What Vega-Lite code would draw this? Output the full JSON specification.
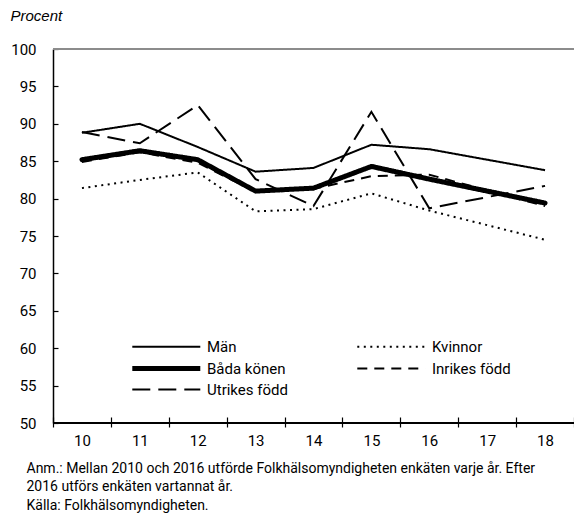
{
  "$schema": "https://vega.github.io/schema/vega-lite/v6.json",
  "width": 521,
  "height": 374,
  "autosize": {"type": "none"},
  "padding": {"left": 53, "top": 49, "right": 0, "bottom": 102},
  "background": "white",
  "config": {
    "view": {"stroke": null},
    "font": "Roboto",
    "axis": {"grid": false, "labelColor": "black", "labelFont": "Roboto", "titleColor": "black"}
  },
  "data": {
    "values": [
      {"year": "10", "serie": "Män", "value": 88.8},
      {"year": "11", "serie": "Män", "value": 90.0},
      {"year": "12", "serie": "Män", "value": 86.9},
      {"year": "13", "serie": "Män", "value": 83.6},
      {"year": "14", "serie": "Män", "value": 84.1},
      {"year": "15", "serie": "Män", "value": 87.2},
      {"year": "16", "serie": "Män", "value": 86.6},
      {"year": "18", "serie": "Män", "value": 83.8},
      {"year": "10", "serie": "Kvinnor", "value": 81.4},
      {"year": "11", "serie": "Kvinnor", "value": 82.5},
      {"year": "12", "serie": "Kvinnor", "value": 83.5},
      {"year": "13", "serie": "Kvinnor", "value": 78.3},
      {"year": "14", "serie": "Kvinnor", "value": 78.6},
      {"year": "15", "serie": "Kvinnor", "value": 80.7},
      {"year": "16", "serie": "Kvinnor", "value": 78.4},
      {"year": "18", "serie": "Kvinnor", "value": 74.5},
      {"year": "10", "serie": "Inrikes född", "value": 84.9},
      {"year": "11", "serie": "Inrikes född", "value": 86.2},
      {"year": "12", "serie": "Inrikes född", "value": 84.8},
      {"year": "13", "serie": "Inrikes född", "value": 80.9},
      {"year": "14", "serie": "Inrikes född", "value": 81.3},
      {"year": "15", "serie": "Inrikes född", "value": 83.0},
      {"year": "16", "serie": "Inrikes född", "value": 83.2},
      {"year": "18", "serie": "Inrikes född", "value": 79.0},
      {"year": "10", "serie": "Utrikes född", "value": 88.9},
      {"year": "11", "serie": "Utrikes född", "value": 87.4},
      {"year": "12", "serie": "Utrikes född", "value": 92.5},
      {"year": "13", "serie": "Utrikes född", "value": 82.6},
      {"year": "14", "serie": "Utrikes född", "value": 79.0},
      {"year": "15", "serie": "Utrikes född", "value": 91.6},
      {"year": "16", "serie": "Utrikes född", "value": 78.7},
      {"year": "18", "serie": "Utrikes född", "value": 81.7},
      {"year": "10", "serie": "Båda könen", "value": 85.2},
      {"year": "11", "serie": "Båda könen", "value": 86.4},
      {"year": "12", "serie": "Båda könen", "value": 85.2},
      {"year": "13", "serie": "Båda könen", "value": 81.0},
      {"year": "14", "serie": "Båda könen", "value": 81.4},
      {"year": "15", "serie": "Båda könen", "value": 84.3},
      {"year": "16", "serie": "Båda könen", "value": 82.6},
      {"year": "18", "serie": "Båda könen", "value": 79.4}
    ]
  },
  "encoding": {
    "x": {
      "field": "year",
      "type": "ordinal",
      "bandPosition": 0.5,
      "scale": {"type": "band", "domain": ["10", "11", "12", "13", "14", "15", "16", "17", "18"], "paddingInner": 0, "paddingOuter": 0},
      "axis": {
        "domain": false,
        "offset": -6,
        "tickBand": "extent",
        "tickSize": 10,
        "tickColor": "black",
        "tickWidth": 1.2,
        "labelAngle": 0,
        "labelFontSize": 15,
        "labelPadding": 6,
        "title": [
          "Anm.: Mellan 2010 och 2016 utförde Folkhälsomyndigheten enkäten varje år. Efter",
          "2016 utförs enkäten vartannat år.",
          "Källa: Folkhälsomyndigheten."
        ],
        "titleFont": "Roboto",
        "titleFontSize": 14,
        "titleFontWeight": "normal",
        "titleAlign": "left",
        "titleBaseline": "top",
        "titleX": -27,
        "titleY": 44,
        "titleLineHeight": 18.5
      }
    },
    "y": {
      "field": "value",
      "type": "quantitative",
      "scale": {"domain": [50, 100], "zero": false, "nice": false},
      "axis": {
        "values": [50, 55, 60, 65, 70, 75, 80, 85, 90, 95, 100],
        "tickCount": 11,
        "labelOverlap": false,
        "domainColor": "black",
        "domainWidth": 1.5,
        "tickColor": "black",
        "tickSize": -5,
        "tickWidth": 1.2,
        "labelFontSize": 15,
        "labelPadding": 22,
        "title": "Procent",
        "titleAngle": 0,
        "titleX": -43,
        "titleY": -34,
        "titleAlign": "left",
        "titleBaseline": "middle",
        "titleFont": "Liberation Sans",
        "titleFontStyle": "italic",
        "titleFontWeight": "normal",
        "titleFontSize": 15
      }
    },
    "strokeDash": {
      "field": "serie",
      "type": "nominal",
      "scale": {
        "domain": ["Män", "Kvinnor", "Båda könen", "Inrikes född", "Utrikes född"],
        "range": [[1, 0], [2, 4.5], [1, 0], [10, 7], [18, 8]]
      },
      "legend": {
        "orient": "none",
        "direction": "horizontal",
        "legendX": 133,
        "legendY": 290,
        "columns": 2,
        "title": null,
        "symbolType": "M-9,0H1",
        "symbolSize": 185,
        "symbolStrokeColor": "black",
        "labelFontSize": 15,
        "labelFont": "Roboto",
        "labelColor": "black",
        "labelOffset": 6,
        "rowPadding": 3,
        "columnPadding": 65,
        "encode": {
          "symbols": {
            "update": {
              "strokeWidth": {"signal": "datum.label === 'Båda könen' ? 5 : 2"}
            }
          }
        }
      }
    }
  },
  "layer": [
    {
      "transform": [{"filter": "datum.serie !== 'Båda könen'"}],
      "mark": {"type": "line", "color": "black", "strokeWidth": 2, "strokeJoin": "miter"}
    },
    {
      "transform": [{"filter": "datum.serie === 'Båda könen'"}],
      "mark": {"type": "line", "color": "black", "strokeWidth": 5, "strokeJoin": "round", "strokeCap": "round"}
    },
    {
      "mark": {"type": "rule", "color": "#8c8c8c", "strokeWidth": 1.5},
      "encoding": {"y": {"datum": 100, "type": "quantitative"}, "strokeDash": {"value": [1, 0]}, "x": {"value": 0}, "x2": {"value": 521}}
    },
    {
      "mark": {"type": "rule", "color": "black", "strokeWidth": 1.5},
      "encoding": {"y": {"datum": 50, "type": "quantitative"}, "strokeDash": {"value": [1, 0]}, "x": {"value": 0}, "x2": {"value": 521}}
    }
  ]
}
